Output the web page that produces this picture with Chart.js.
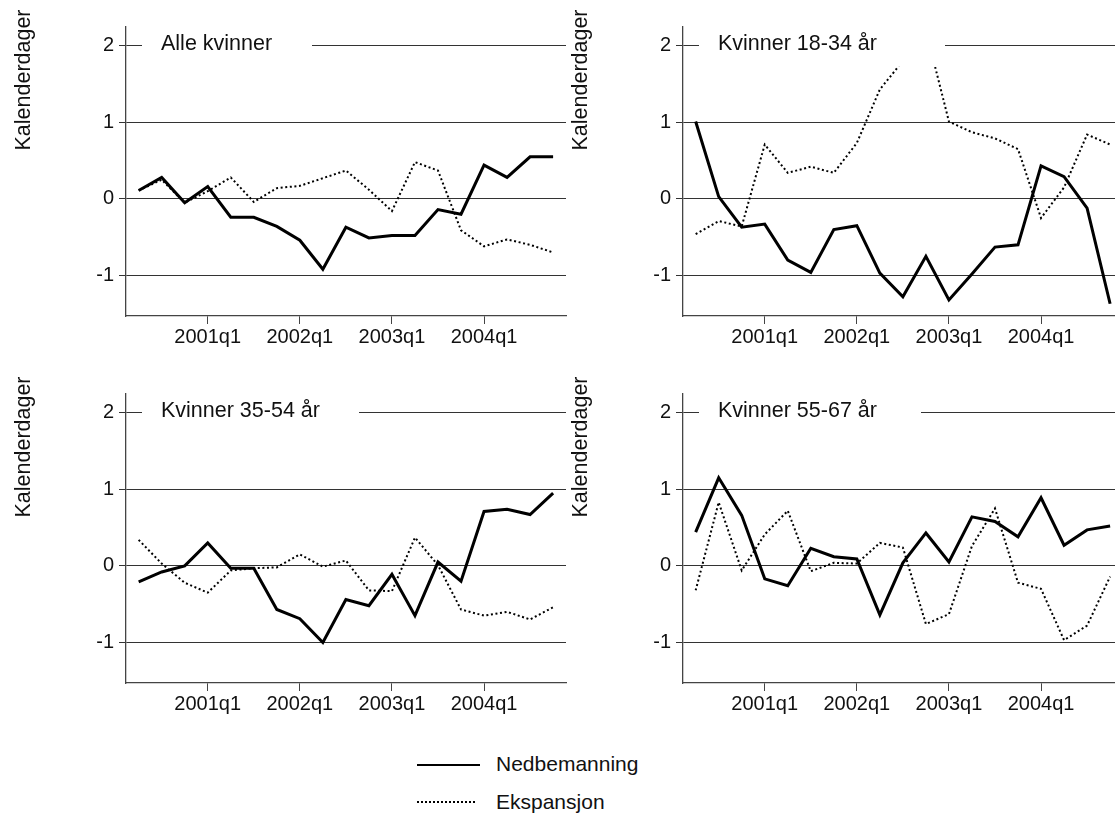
<!DOCTYPE html>
<html>
<head>
<meta charset="utf-8">
<script src="https://cdn.jsdelivr.net/npm/chart.js@4"></script>
<style>
  html, body { margin: 0; padding: 0; background: #fff; width: 1115px; height: 815px; overflow: hidden; }
  canvas { position: absolute; }
  .leg { position: absolute; font: 21px 'Liberation Sans', Arial, sans-serif; color: #111; line-height: 24px; }
  .solid { position: absolute; height: 2px; background: #000; }
  .dots { position: absolute; height: 2px; background: repeating-linear-gradient(to right, #000 0 2px, transparent 2px 4px); }
</style>
</head>
<body>
<canvas id="c1" width="570" height="360" style="left:0;top:0"></canvas>
<canvas id="c2" width="570" height="360" style="left:557px;top:0"></canvas>
<canvas id="c3" width="570" height="360" style="left:0;top:367px"></canvas>
<canvas id="c4" width="570" height="360" style="left:557px;top:367px"></canvas>

<div class="solid" style="left:417px;top:764px;width:63px"></div>
<div class="leg" id="leg1" style="left:496px;top:752px"></div>
<div class="dots" style="left:417px;top:801px;width:58px"></div>
<div class="leg" id="leg2" style="left:496px;top:790px"></div>

<script>
const quarters = ['2000q2','2000q3','2000q4','2001q1','2001q2','2001q3','2001q4',
  '2002q1','2002q2','2002q3','2002q4','2003q1','2003q2','2003q3','2003q4',
  '2004q1','2004q2','2004q3','2004q4']
const seriesNames = ['Nedbemanning', 'Ekspansjon']
const yTicks = [-1, 0, 1, 2]
const yTitle = 'Kalenderdager'

const panelTitles = ['Alle kvinner', 'Kvinner 18-34 år', 'Kvinner 35-54 år', 'Kvinner 55-67 år']

// Nedbemanning (heltrukket) og Ekspansjon (prikket) per gruppe
const alleNed = [0.11, 0.28, -0.05, 0.16, -0.24, -0.24, -0.36, -0.54, -0.92, -0.37, -0.51, -0.48, -0.48, -0.14, -0.20, 0.44, 0.28, 0.55, 0.55]
const alleEks = [0.11, 0.25, -0.05, 0.10, 0.28, -0.04, 0.14, 0.17, 0.27, 0.37, 0.12, -0.16, 0.48, 0.37, -0.41, -0.62, -0.53, -0.60, -0.70]

const ungNed = [1.01, 0.03, -0.37, -0.33, -0.80, -0.96, -0.40, -0.35, -0.97, -1.28, -0.75, -1.32, -0.98, -0.63, -0.60, 0.43, 0.29, -0.12, -1.37]
const ungEks = [-0.46, -0.29, -0.36, 0.71, 0.34, 0.42, 0.34, 0.73, 1.43, 1.80, 2.20, 1.01, 0.87, 0.79, 0.65, -0.25, 0.15, 0.84, 0.71]

const midNed = [-0.21, -0.08, 0.00, 0.30, -0.03, -0.03, -0.57, -0.69, -1.00, -0.44, -0.52, -0.11, -0.65, 0.05, -0.20, 0.71, 0.74, 0.67, 0.95]
const midEks = [0.34, 0.03, -0.22, -0.35, -0.06, -0.03, -0.02, 0.15, -0.01, 0.07, -0.32, -0.33, 0.37, 0.01, -0.57, -0.65, -0.60, -0.70, -0.54]

const eldNed = [0.44, 1.15, 0.66, -0.17, -0.26, 0.23, 0.12, 0.09, -0.64, 0.04, 0.43, 0.05, 0.64, 0.58, 0.38, 0.89, 0.27, 0.47, 0.52]
const eldEks = [-0.32, 0.83, -0.06, 0.41, 0.72, -0.07, 0.04, 0.03, 0.30, 0.24, -0.76, -0.63, 0.26, 0.75, -0.22, -0.30, -0.97, -0.78, -0.14]

const panels = [
  { id: 'c1', title: panelTitles[0], ned: alleNed, eks: alleEks, boxW: 170 },
  { id: 'c2', title: panelTitles[1], ned: ungNed, eks: ungEks, boxW: 246 },
  { id: 'c3', title: panelTitles[2], ned: midNed, eks: midEks, boxW: 217 },
  { id: 'c4', title: panelTitles[3], ned: eldNed, eks: eldEks, boxW: 222 },
]

const fontFam = "'Liberation Sans', Arial, sans-serif"
const xTicks = quarters.map((q, i) => q.endsWith('q1') ? i : null).filter(i => i !== null)

document.getElementById('leg1').textContent = seriesNames[0]
document.getElementById('leg2').textContent = seriesNames[1]

// tittel i hvit boks over linja ved 2, og y-aksetittel
const panelDeco = {
  id: 'panelDeco',
  afterDatasetsDraw(chart, args, opts) {
    const { ctx, chartArea } = chart
    const y = chart.scales.y
    const y2 = y.getPixelForValue(2)
    const yb = y.getPixelForValue(1.725)
    const x0 = chartArea.left + 16
    ctx.save()
    ctx.fillStyle = '#fff'
    ctx.fillRect(x0, y2 - 20, opts.boxW, yb - (y2 - 20))
    ctx.fillStyle = '#111'
    ctx.font = '21.5px ' + fontFam
    ctx.textAlign = 'left'
    ctx.textBaseline = 'alphabetic'
    ctx.fillText(opts.title, chartArea.left + 35, y2 + 4)

    ctx.translate(chartArea.left - 102, chartArea.top + 53)
    ctx.rotate(-Math.PI / 2)
    ctx.textAlign = 'center'
    ctx.textBaseline = 'middle'
    ctx.fillText(yTitle, 0, 0)
    ctx.restore()
  }
}

panels.forEach(p => {
  new Chart(document.getElementById(p.id), {
    type: 'line',
    data: {
      datasets: [
        {
          label: seriesNames[0],
          data: p.ned.map((v, i) => ({ x: i, y: v })),
          borderColor: '#000',
          borderWidth: 3,
          borderJoinStyle: 'miter',
          pointRadius: 0,
          tension: 0
        },
        {
          label: seriesNames[1],
          data: p.eks.map((v, i) => ({ x: i, y: v })),
          borderColor: '#000',
          borderWidth: 2,
          borderDash: [2, 2.6],
          pointRadius: 0,
          tension: 0
        }
      ]
    },
    options: {
      responsive: false,
      animation: false,
      layout: { padding: { left: 0, right: 4, top: 27, bottom: 0 } },
      plugins: {
        legend: { display: false },
        tooltip: { enabled: false },
        panelDeco: { title: p.title, boxW: p.boxW }
      },
      scales: {
        x: {
          type: 'linear',
          min: -0.55,
          max: 18.56,
          afterBuildTicks: s => { s.ticks = xTicks.map(v => ({ value: v })) },
          afterFit: s => { s.height = 44 },
          ticks: {
            callback: v => quarters[v],
            font: { family: fontFam, size: 20 },
            color: '#111',
            padding: 1,
            maxRotation: 0,
            autoSkip: false
          },
          grid: { drawOnChartArea: false, tickLength: 8, color: '#444', lineWidth: 1 },
          border: { color: '#444', width: 1.3 }
        },
        y: {
          min: -1.53,
          max: 2.245,
          afterBuildTicks: s => { s.ticks = yTicks.map(v => ({ value: v })) },
          afterFit: s => { s.width = 126 },
          ticks: {
            callback: v => String(v),
            font: { family: fontFam, size: 20 },
            color: '#111',
            padding: 5
          },
          grid: { color: '#333', tickLength: 7, lineWidth: 1 },
          border: { color: '#444', width: 1.3 }
        }
      }
    },
    plugins: [panelDeco]
  })
})
</script>
</body>
</html>
